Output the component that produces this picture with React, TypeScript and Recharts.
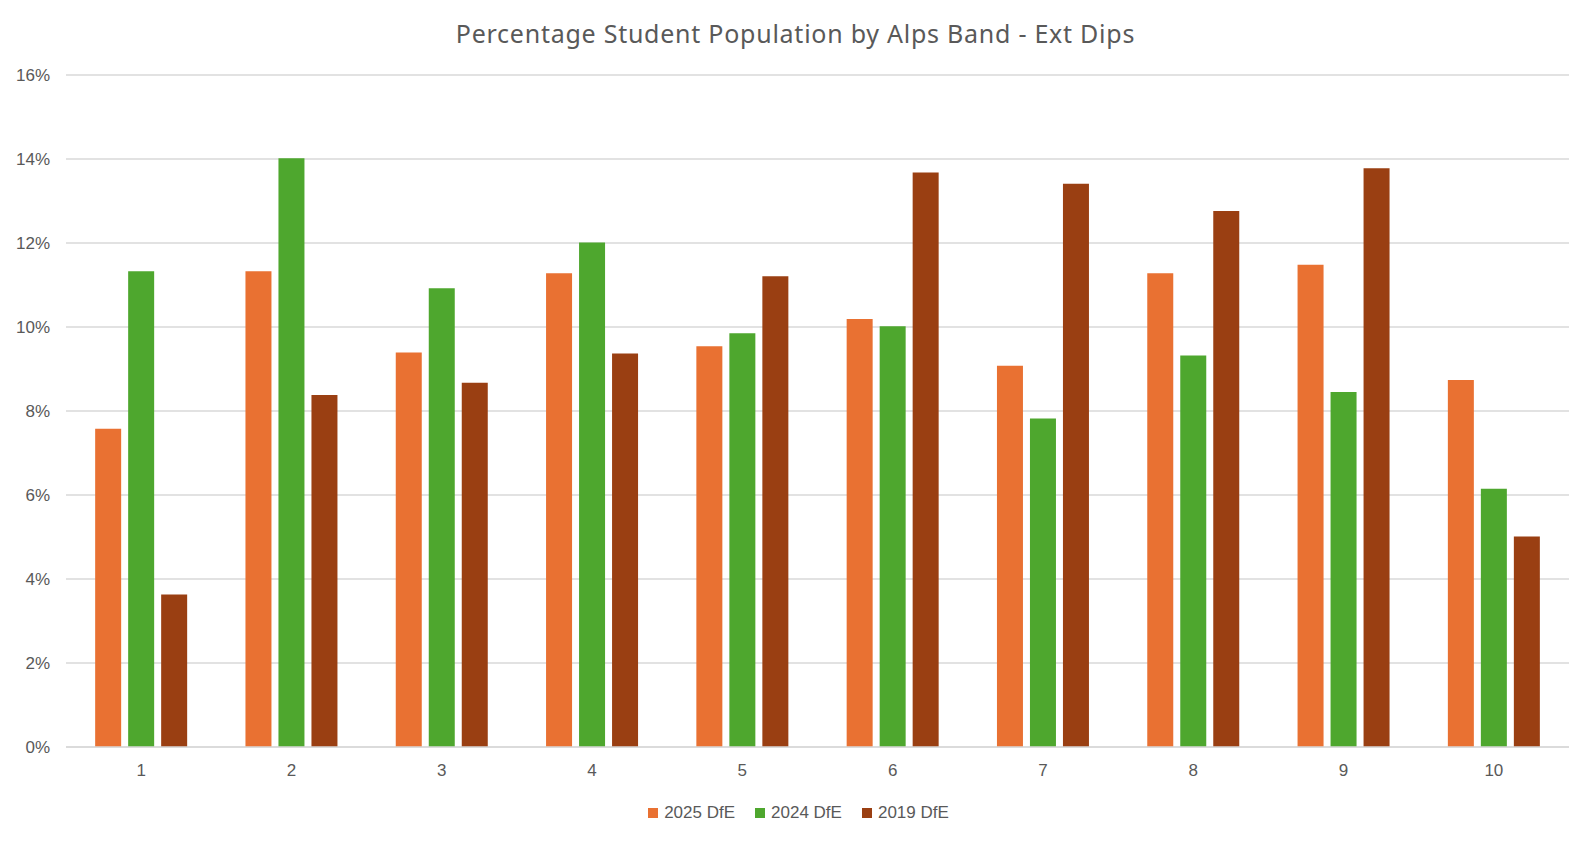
import React from 'react';
import { BarChart, Bar, XAxis, YAxis, CartesianGrid, Legend } from 'recharts';

// Alps bands on the x axis
const bands = ['1', '2', '3', '4', '5', '6', '7', '8', '9', '10'];

// percentage of students in each band
const dfe2025 = [7.58, 11.33, 9.39, 11.28, 9.54, 10.19, 9.08, 11.28, 11.48, 8.74];
const dfe2024 = [11.33, 14.02, 10.92, 12.01, 9.85, 10.02, 7.82, 9.32, 8.45, 6.15];
const dfe2019 = [3.63, 8.38, 8.67, 9.37, 11.21, 13.68, 13.41, 12.76, 13.78, 5.01];

const seriesNames = ['2025 DfE', '2024 DfE', '2019 DfE'];
const seriesColors = ['#E97132', '#4EA72E', '#9A3F12'];
const yTicks = [0, 2, 4, 6, 8, 10, 12, 14, 16];

const data = bands.map((band, i) => ({
  band,
  '2025 DfE': dfe2025[i],
  '2024 DfE': dfe2024[i],
  '2019 DfE': dfe2019[i],
}));

const titleFont = '"Noto Sans", sans-serif';
const font = '"Liberation Sans", Arial, sans-serif';

// legend drawn in series order, Excel style
const renderLegend = () => (
  <div style={{ display: 'flex', justifyContent: 'center', paddingLeft: 6, paddingTop: 6, fontFamily: font, fontSize: 17, color: '#595959' }}>
    {seriesNames.map((name, i) => (
      <div key={name} style={{ display: 'flex', alignItems: 'center', marginRight: i < seriesNames.length - 1 ? 20 : 0 }}>
        <span style={{ display: 'inline-block', width: 10, height: 10, background: seriesColors[i], marginRight: 6 }} />
        <span>{name}</span>
      </div>
    ))}
  </div>
);

export default function App() {
  return (
    <div style={{ position: 'relative', width: 1575, height: 826 }}>
      <div
        style={{
          position: 'absolute',
          top: 8,
          left: 0,
          width: 1575,
          textAlign: 'center',
          fontSize: 25,
          letterSpacing: 0.75,
          color: '#595959',
          fontFamily: titleFont,
        }}
      >
        Percentage Student Population by Alps Band - Ext Dips
      </div>
      <BarChart
        width={1575}
        height={826}
        data={data}
        margin={{ top: 67, right: 14, bottom: 7, left: 0 }}
        barCategoryGap="19.4%"
        barGap={7}
      >
        <CartesianGrid vertical={false} stroke="#d9d9d9" strokeWidth={1.5} />
        <XAxis
          dataKey="band"
          axisLine={{ stroke: '#d9d9d9', strokeWidth: 1.5 }}
          tickLine={false}
          tick={{ fill: '#595959', fontSize: 17, fontFamily: font }}
          tickMargin={11}
          height={50}
        />
        <YAxis
          domain={[0, 16]}
          ticks={yTicks}
          tickFormatter={(v) => `${v}%`}
          axisLine={false}
          tickLine={false}
          tick={{ fill: '#595959', fontSize: 17, fontFamily: font }}
          width={58}
          tickMargin={10}
        />
        <Legend
          verticalAlign="bottom"
          height={30}
          content={renderLegend}
          wrapperStyle={{ left: 0, width: 1575 }}
        />
        <Bar dataKey="2025 DfE" fill={seriesColors[0]} isAnimationActive={false} />
        <Bar dataKey="2024 DfE" fill={seriesColors[1]} isAnimationActive={false} />
        <Bar dataKey="2019 DfE" fill={seriesColors[2]} isAnimationActive={false} />
      </BarChart>
    </div>
  );
}
